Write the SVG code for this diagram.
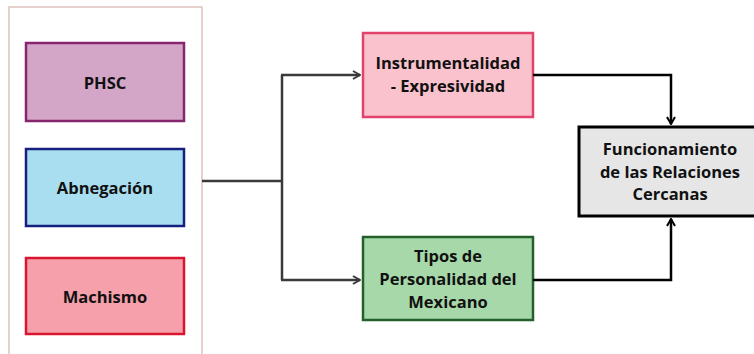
<svg xmlns="http://www.w3.org/2000/svg" width="754" height="354" viewBox="0 0 754 354">
<defs>
<style>
text{font-family:"Open Sans","DejaVu Sans",sans-serif;font-weight:700;font-size:16.5px;fill:#111;text-anchor:middle}
.box{stroke-width:2.5}
.con{fill:none;stroke-width:2.5}
</style>
<marker id="ag" viewBox="0 0 10 10" refX="9" refY="5" markerWidth="4" markerHeight="4" orient="auto" markerUnits="strokeWidth"><path d="M2,1 L9,5 L2,9" fill="none" stroke="#3a3a3a" stroke-width="2"/></marker>
<marker id="ab" viewBox="0 0 10 10" refX="9" refY="5" markerWidth="4" markerHeight="4" orient="auto" markerUnits="strokeWidth"><path d="M2,1 L9,5 L2,9" fill="none" stroke="#000" stroke-width="2"/></marker>
</defs>
<rect width="754" height="354" fill="#fff"/>
<g id="container"><rect x="9" y="7" width="193" height="360" fill="#fff" stroke="#d6b3ae" stroke-width="1.2"/></g>
<g id="phsc"><rect class="box" x="26" y="43" width="158" height="78" fill="#d3a6c8" stroke="#86266f"/><text x="105" y="89">PHSC</text></g>
<g id="abnegacion"><rect class="box" x="26" y="149" width="158" height="77" fill="#a9def1" stroke="#17207e"/><text x="105" y="194">Abnegación</text></g>
<g id="machismo"><rect class="box" x="26" y="258" width="158" height="76" fill="#f5a0aa" stroke="#da1530"/><text x="105" y="303">Machismo</text></g>
<g id="instrumentalidad"><rect class="box" x="363" y="33" width="170" height="84" fill="#f9c2cd" stroke="#e2426b"/><text x="448" y="69">Instrumentalidad</text><text x="448" y="92">- Expresividad</text></g>
<g id="tipos"><rect class="box" x="363" y="237" width="170" height="83" fill="#a7d8a9" stroke="#24602a"/><text x="448" y="262">Tipos de</text><text x="448" y="285">Personalidad del</text><text x="448" y="308">Mexicano</text></g>
<g id="funcionamiento"><rect x="579" y="127" width="185" height="89" fill="#e6e6e6" stroke="#000" stroke-width="3"/><text x="670" y="155">Funcionamiento</text><text x="670" y="177.5">de las Relaciones</text><text x="670" y="200">Cercanas</text></g>
<g id="connectors">
<path class="con" d="M202,181 H282" stroke="#3a3a3a"/>
<path class="con" d="M282,75 V280" stroke="#3a3a3a"/>
<path class="con" d="M281,75 H360" stroke="#3a3a3a" marker-end="url(#ag)"/>
<path class="con" d="M281,280 H360" stroke="#3a3a3a" marker-end="url(#ag)"/>
<path class="con" d="M533,75 H671 V124" stroke="#000" marker-end="url(#ab)"/>
<path class="con" d="M533,280 H671 V219" stroke="#000" marker-end="url(#ab)"/>
</g>
</svg>
